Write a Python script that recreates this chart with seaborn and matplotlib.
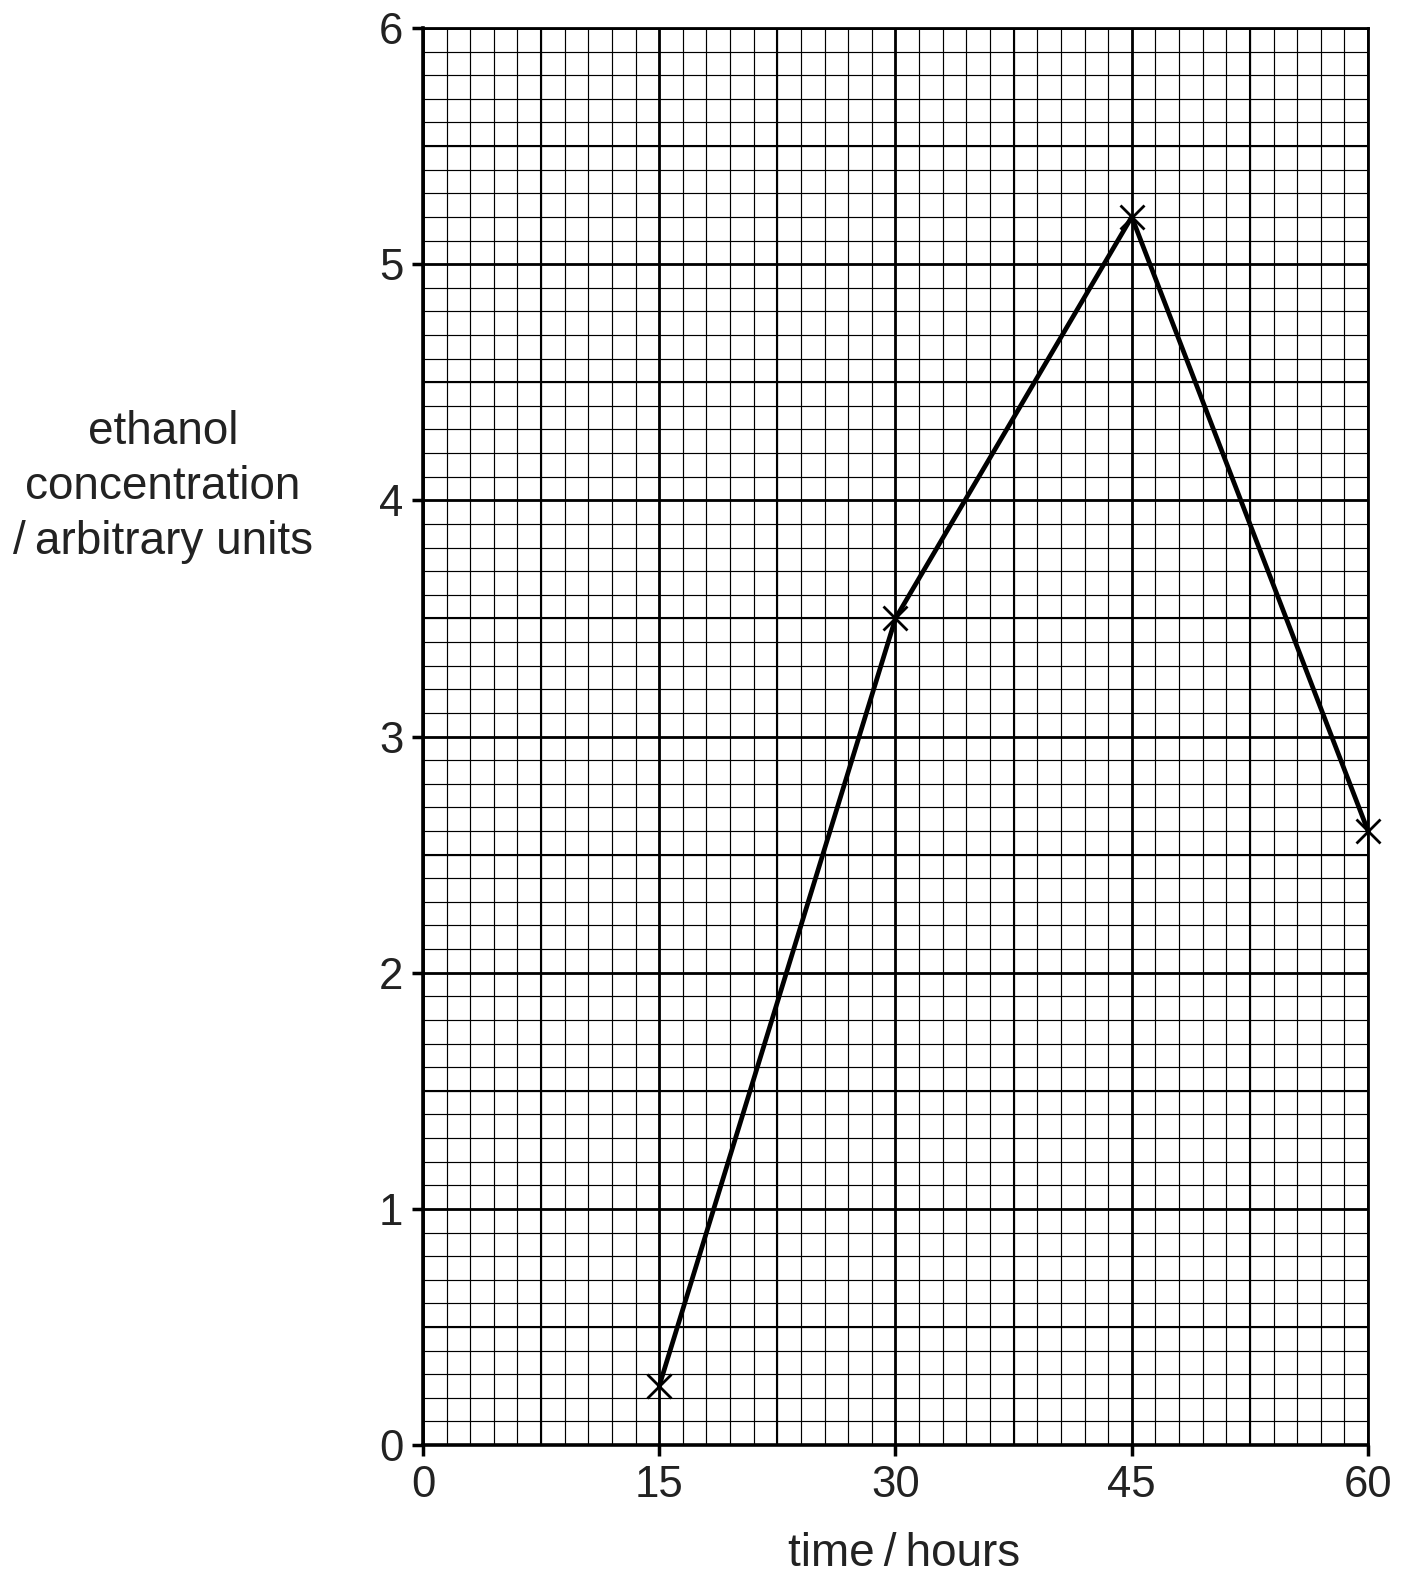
import numpy as np
import pandas as pd
import matplotlib
matplotlib.use("Agg")
import matplotlib.pyplot as plt
import seaborn as sns

# data
time_hours = [15, 30, 45, 60]
ethanol = [0.25, 3.5, 5.2, 2.6]
x_ticks = [0, 15, 30, 45, 60]
y_ticks = [0, 1, 2, 3, 4, 5, 6]

sns.set_theme(style="white")
plt.rcParams['font.family'] = ['Liberation Sans', 'DejaVu Sans']

DPI = 100
fig = plt.figure(figsize=(14.07, 15.80), dpi=DPI)
ax = fig.add_axes([0.3006, 0.0854, 0.9723 - 0.3006, 0.9823 - 0.0854])

df = pd.DataFrame({"time": time_hours, "ethanol": ethanol})

ax.set_xlim(0, 60)
ax.set_ylim(0, 6)

# grid: minor lines
for xv in np.arange(0, 60.01, 1.5):
    ax.axvline(xv, color="black", lw=0.85, zorder=1)
for yv in np.arange(0, 6.001, 0.1):
    ax.axhline(yv, color="black", lw=0.85, zorder=1)
# medium lines
for xv in np.arange(7.5, 60, 15):
    ax.axvline(xv, color="black", lw=1.5, zorder=1.2)
for yv in np.arange(0.5, 6, 1.0):
    ax.axhline(yv, color="black", lw=1.5, zorder=1.2)
# major lines
for xv in x_ticks:
    ax.axvline(xv, color="black", lw=2.0, zorder=1.4)
for yv in y_ticks:
    ax.axhline(yv, color="black", lw=2.0, zorder=1.4)

sns.lineplot(data=df, x="time", y="ethanol", ax=ax, color="black", lw=3.4,
             marker="x", markersize=17, markeredgewidth=2.0,
             markeredgecolor="black", zorder=5, clip_on=False)

ax.set_xticks(x_ticks)
ax.set_yticks(y_ticks)
ax.set_xticklabels([str(v) for v in x_ticks], fontsize=31.5, color="#222222")
ax.set_yticklabels([str(v) for v in y_ticks], fontsize=31.5, color="#222222")
ax.tick_params(axis="both", which="major", direction="out", length=8, width=2.5,
               color="black", pad=6, bottom=True, left=True)
ax.set_xlabel("")
ax.set_ylabel("")

for side in ["left", "bottom"]:
    ax.spines[side].set_visible(True)
    ax.spines[side].set_linewidth(2.6)
    ax.spines[side].set_color("black")
    ax.spines[side].set_zorder(3)
for side in ["top", "right"]:
    ax.spines[side].set_linewidth(2.0)
    ax.spines[side].set_color("black")

fig.text(163 / 1407, 1 - 487 / 1580, "ethanol\nconcentration\n/\u2009arbitrary units",
         ha="center", va="center", fontsize=33, color="#222222", linespacing=1.31)
fig.text(904 / 1407, 1 - 1554 / 1580, "time\u2009/\u2009hours", ha="center", va="center",
         fontsize=33, color="#222222")

fig.savefig("out.png", dpi=DPI, facecolor="white")
